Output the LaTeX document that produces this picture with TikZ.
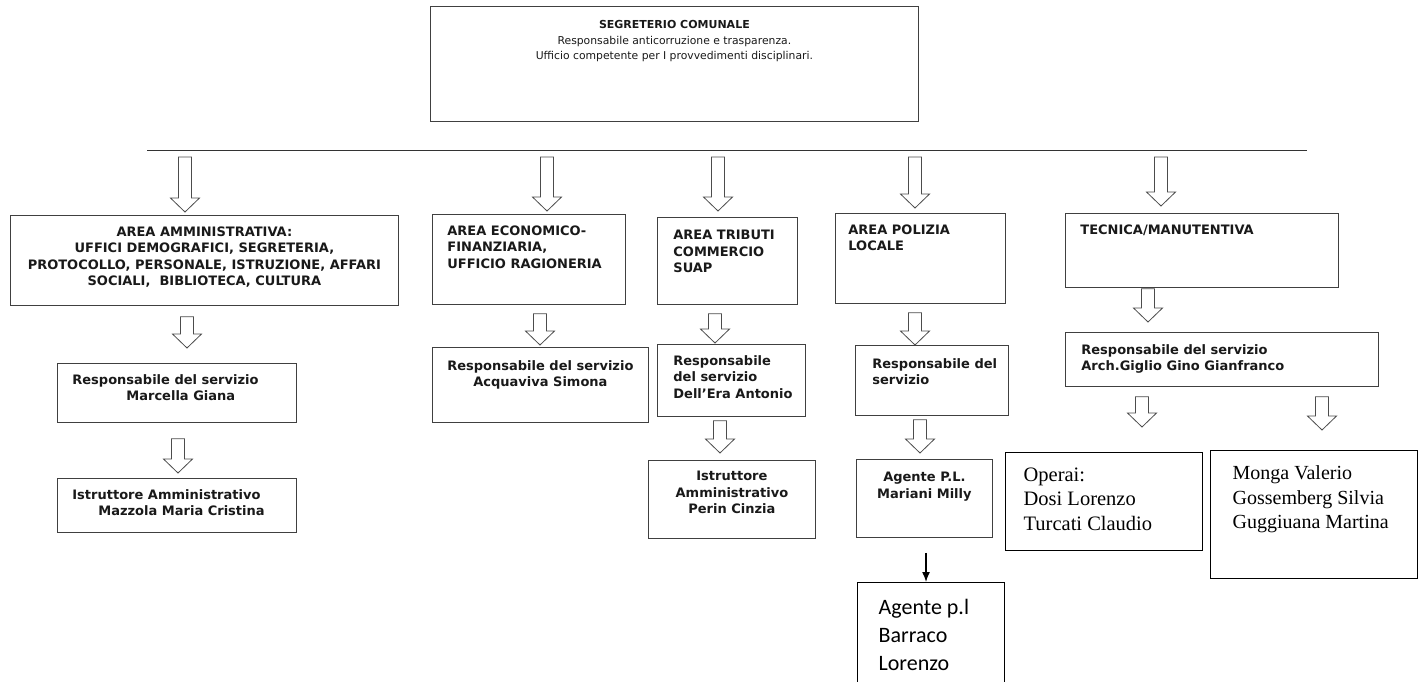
\documentclass[tikz,border=0pt]{standalone}
\usepackage{fontspec}
\setmainfont{DejaVu Sans}
\newfontfamily\timesfont{Liberation Serif}
\newfontfamily\calibrifont{Carlito}
\usetikzlibrary{calc,arrows.meta}

% box body: width, height, top padding, text
\newcommand{\cell}[4]{\parbox[c][#2][t]{#1}{\vspace*{#3}#4}}
% hollow block arrow: from, to, x, gap at start, gap at tip
\newcommand{\blockarrow}[5]{%
    \coordinate (ba-s) at ($(#3,0 |- #1)+(0,#4)$);
    \coordinate (ba-e) at ($(#3,0 |- #2)+(0,-#5)$);
    \draw[hollow] ($(ba-s)+(-6.5,0)$) -- ($(ba-e)+(-6.5,-14)$) -- ($(ba-e)+(-14.5,-14)$) -- (ba-e)
        -- ($(ba-e)+(14.5,-14)$) -- ($(ba-e)+(6.5,-14)$) -- ($(ba-s)+(6.5,0)$) -- cycle;
}

\begin{document}
\begin{tikzpicture}[x=1pt,y=-1pt]
            \tikzstyle{unit}=[draw=black!75,line width=0.8pt,inner sep=0pt,anchor=north west,text=black!90,font=\bfseries\fontsize{13}{16.5}\selectfont]
            \tikzstyle{person}=[draw=black,line width=1.3pt,inner sep=0pt,anchor=north west,text=black]
            \tikzstyle{hollow}=[draw=black!70,line width=0.8pt,fill=white,line join=miter]
            \useasboundingbox (0,0) rectangle (1421,681);
            \clip (0,0) rectangle (1421,681);

            % segretario
            \node[unit,font=\fontsize{10.8}{15.5}\selectfont] (seg) at (430,6)
                {\cell{488pt}{115pt}{14pt}{\centering{\bfseries\fontsize{11}{15}\selectfont SEGRETERIO COMUNALE}\\Responsabile anticorruzione e trasparenza.\\Ufficio competente per I provvedimenti disciplinari.}};
            \coordinate (busL) at (147,150);
            \coordinate (busR) at (1307,150);
            \draw[black!80,line width=1pt] (busL) -- (busR);

            % aree
            \node[unit] (admin) at (10,215) {\cell{388pt}{90pt}{11pt}{\centering AREA AMMINISTRATIVA:\\UFFICI DEMOGRAFICI, SEGRETERIA,\\PROTOCOLLO, PERSONALE, ISTRUZIONE, AFFARI\\SOCIALI,\ \ BIBLIOTECA, CULTURA}};
            \node[unit] (econ) at (432,214) {\cell{193pt}{90pt}{11pt}{\raggedright\leftskip=15pt AREA ECONOMICO-\\FINANZIARIA,\\UFFICIO RAGIONERIA}};
            \node[unit] (trib) at (657,217) {\cell{140pt}{87pt}{13pt}{\raggedright\leftskip=16pt AREA TRIBUTI\\COMMERCIO\\SUAP}};
            \node[unit] (poliz) at (835,213) {\cell{170pt}{90pt}{11pt}{\raggedright\leftskip=13pt AREA POLIZIA\\LOCALE}};
            \node[unit] (tecn) at (1065,213) {\cell{273pt}{74pt}{11pt}{\raggedright\leftskip=15pt TECNICA/MANUTENTIVA}};

            \foreach \x/\area/\gap in {185/admin/3, 547/econ/3, 718/trib/6, 915/poliz/5, 1161/tecn/7}
                \blockarrow{busL}{\area.north}{\x}{7}{\gap};

            % responsabili
            \node[unit] (marc) at (57,363) {\cell{239pt}{59pt}{11pt}{\raggedright\leftskip=15pt Responsabile del servizio\\\hspace*{54pt}Marcella Giana}};
            \node[unit] (acqu) at (432,347) {\cell{216pt}{75pt}{13pt}{\centering Responsabile del servizio\\Acquaviva Simona}};
            \node[unit] (dell) at (657,344) {\cell{148pt}{72pt}{11pt}{\raggedright\leftskip=16pt Responsabile\\del servizio\\Dell’Era Antonio}};
            \node[unit] (presp) at (855,345) {\cell{153pt}{70pt}{13pt}{\raggedright\leftskip=17pt Responsabile del\\servizio}};
            \node[unit] (tresp) at (1065,332) {\cell{313pt}{54pt}{12pt}{\raggedright\leftskip=16pt Responsabile del servizio\\Arch.Giglio Gino Gianfranco}};

            \blockarrow{admin.south}{marc.north}{187}{11}{15}
            \blockarrow{econ.south}{acqu.north}{540}{9}{2}
            \blockarrow{trib.south}{dell.north}{715}{9}{1}
            \blockarrow{poliz.south}{presp.north}{915}{9}{0}
            \blockarrow{tecn.south}{tresp.north}{1148}{1}{10}

            % personale
            \node[unit] (mazz) at (57,478) {\cell{239pt}{54pt}{11pt}{\raggedright\leftskip=15pt Istruttore Amministrativo\\\hspace*{26pt}Mazzola Maria Cristina}};
            \node[unit] (perin) at (648,460) {\cell{167pt}{78pt}{11pt}{\centering Istruttore\\Amministrativo\\Perin Cinzia}};
            \node[unit] (agente) at (856,459) {\cell{136pt}{78pt}{13pt}{\centering Agente P.L.\\Mariani Milly}};
            \node[person] (operai) at (1005,452) {\cell{197pt}{98pt}{15pt}{\timesfont\fontsize{20.5}{24.5}\selectfont\raggedright\leftskip=18pt Operai:\\Dosi Lorenzo\\Turcati Claudio}};
            \node[person] (monga) at (1210,450) {\cell{207pt}{128pt}{15pt}{\timesfont\fontsize{20}{24.5}\selectfont\raggedright\leftskip=22pt Monga Valerio\\Gossemberg Silvia\\Guggiuana Martina}};
            \node[person] (barraco) at (857,582) {\cell{147pt}{130pt}{17pt}{\calibrifont\fontsize{22}{28}\selectfont\raggedright\leftskip=21pt Agente p.l\\Barraco\\Lorenzo}};

            \blockarrow{marc.south}{mazz.north}{178}{16}{5}
            \blockarrow{dell.south}{perin.north}{720}{4}{7}
            \blockarrow{presp.south}{agente.north}{920}{4}{6}
            \blockarrow{tresp.south}{operai.north}{1142}{10}{25}
            \blockarrow{tresp.south}{monga.north}{1322}{10}{20}

            \draw[-{Latex[length=10pt,width=8pt]},line width=1.4pt] ($(926,0 |- agente.south)+(0,15)$) -- (926,0 |- barraco.north);
\end{tikzpicture}
\end{document}
